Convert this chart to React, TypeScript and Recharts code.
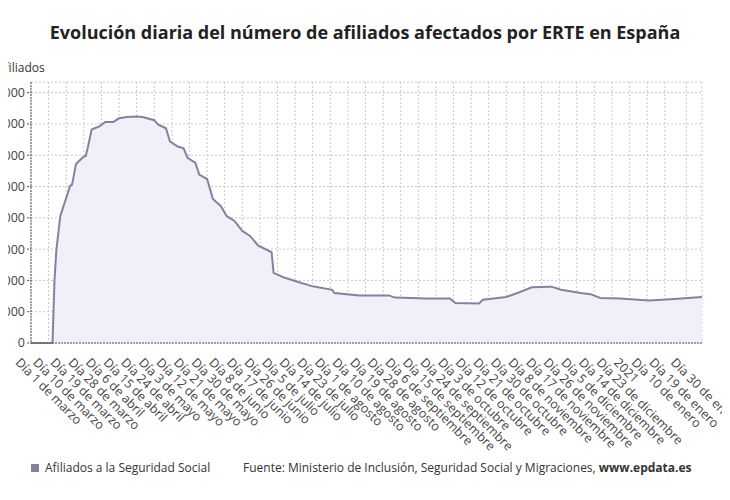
import React from "react";
import { AreaChart, Area, XAxis, YAxis, CartesianGrid } from "recharts";

const days = [0, 11, 12, 13, 15, 20, 21, 23, 27, 28, 29, 31, 35, 38, 42, 45, 49, 54, 57, 63, 65, 69, 71, 75, 78, 80, 84, 86, 90, 93, 97, 100, 104, 108, 112, 116, 123, 124, 129, 137, 144, 154, 155, 168, 183, 186, 202, 214, 217, 229, 231, 243, 250, 256, 266, 271, 281, 286, 291, 301, 316, 327, 343];
const afiliados = [0, 0, 1000000, 1500000, 2030000, 2510000, 2530000, 2860000, 2980000, 2990000, 3120000, 3410000, 3460000, 3530000, 3530000, 3590000, 3610000, 3620000, 3610000, 3560000, 3490000, 3430000, 3220000, 3140000, 3110000, 2960000, 2880000, 2690000, 2620000, 2300000, 2190000, 2030000, 1950000, 1790000, 1710000, 1560000, 1450000, 1120000, 1050000, 970000, 905000, 850000, 800000, 760000, 760000, 725000, 710000, 710000, 640000, 630000, 690000, 735000, 815000, 890000, 900000, 850000, 800000, 780000, 720000, 710000, 680000, 700000, 735000];

const tickDays = [0, 9, 18, 27, 36, 45, 54, 63, 72, 81, 90, 99, 108, 117, 126, 135, 144, 153, 162, 171, 180, 189, 198, 207, 216, 225, 234, 243, 252, 261, 270, 279, 288, 297, 306, 315, 324, 335];
const tickLabels = ["Día 1 de marzo", "Día 10 de marzo", "Día 19 de marzo", "Día 28 de marzo", "Día 6 de abril", "Día 15 de abril", "Día 24 de abril", "Día 3 de mayo", "Día 12 de mayo", "Día 21 de mayo", "Día 30 de mayo", "Día 8 de junio", "Día 17 de junio", "Día 26 de junio", "Día 5 de julio", "Día 14 de julio", "Día 23 de julio", "Día 1 de agosto", "Día 10 de agosto", "Día 19 de agosto", "Día 28 de agosto", "Día 6 de septiembre", "Día 15 de septiembre", "Día 24 de septiembre", "Día 3 de octubre", "Día 12 de octubre", "Día 21 de octubre", "Día 30 de octubre", "Día 8 de noviembre", "Día 17 de noviembre", "Día 26 de noviembre", "Día 5 de diciembre", "Día 14 de diciembre", "Día 23 de diciembre", "2021", "Día 10 de enero", "Día 19 de enero", "Día 30 de enero"];
const yTicks = [0, 500000, 1000000, 1500000, 2000000, 2500000, 3000000, 3500000, 4000000];

const data = days.map((d, i) => ({ d, v: afiliados[i] }));
const fmt = (n: number) => String(n).replace(/\B(?=(\d{3})+(?!\d))/g, ".");
const FONT = "'Open Sans', 'Noto Sans', sans-serif";

const XTick = (props: any) => {
  const { x, y, payload } = props;
  const idx = tickDays.indexOf(payload.value);
  return (
    <text x={x - 9} y={y + 5} transform={`rotate(45, ${x - 9}, ${y + 5})`} textAnchor="start" dominantBaseline="hanging" fontSize={12.5} fill="#444" fontFamily={FONT}>
      {idx >= 0 ? tickLabels[idx] : ""}
    </text>
  );
};

export default function App() {
  return (
    <div style={{ position: "relative", width: 730, height: 500, margin: -8, overflow: "hidden", background: "#fff", fontFamily: FONT }}>
      <div style={{ position: "absolute", top: 20, left: 0, width: 730, textAlign: "center", fontSize: 18, fontWeight: 700, color: "#222" }}>
        Evolución diaria del número de afiliados afectados por ERTE en España
      </div>
      <div style={{ position: "absolute", top: 59, left: -3, fontSize: 12, color: "#333" }}>Afiliados</div>
      <div style={{ position: "absolute", left: -49, top: 0 }}>
        <AreaChart width={781} height={500} data={data} margin={{ top: 82, right: 30, bottom: 0, left: 0 }}>
          <CartesianGrid stroke="#c8c8c8" strokeDasharray="2 2" />
          <XAxis dataKey="d" type="number" domain={[0, 343]} ticks={tickDays} interval={0} height={157} tick={<XTick />} stroke="#555" strokeDasharray="2 1" tickLine={false} />
          <YAxis type="number" domain={[0, 4170000]} ticks={yTicks} tickFormatter={fmt} width={80} stroke="#555" strokeDasharray="2 1" tickSize={4} tick={{ fontSize: 12.5, fill: "#444", fontFamily: FONT }} />
          <Area type="linear" dataKey="v" stroke="#8a7fa0" strokeWidth={2} fill="#f1eff7" fillOpacity={1} isAnimationActive={false} dot={false} />
        </AreaChart>
      </div>
      <div style={{ position: "absolute", top: 459, left: 31, fontSize: 12, color: "#333", display: "flex", alignItems: "center" }}>
        <span style={{ display: "inline-block", width: 8, height: 8, background: "#8a7fa0", marginRight: 6 }} />
        Afiliados a la Seguridad Social
      </div>
      <div style={{ position: "absolute", top: 459, left: 243, fontSize: 12, color: "#333" }}>
        Fuente: Ministerio de Inclusión, Seguridad Social y Migraciones, <b>www.epdata.es</b>
      </div>
    </div>
  );
}
